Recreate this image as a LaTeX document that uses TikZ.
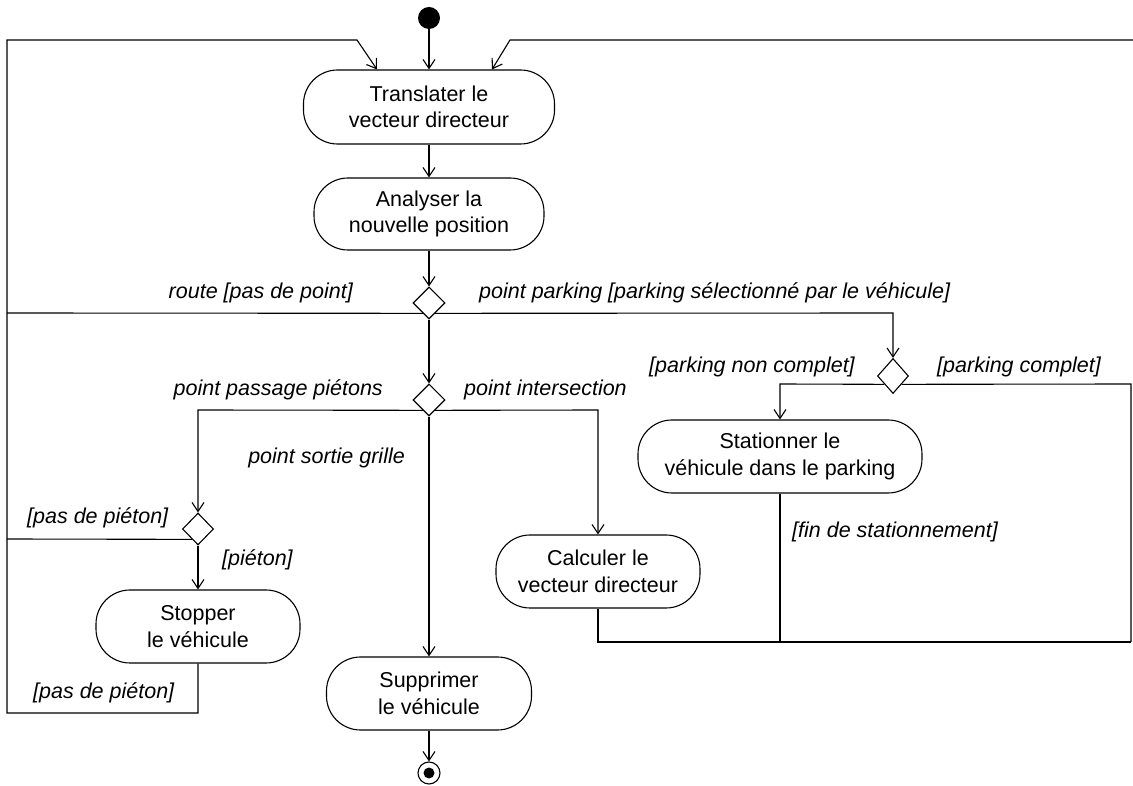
\documentclass[tikz,border=0pt]{standalone}
\usepackage{fontspec}
\setmainfont{Liberation Sans}
\usetikzlibrary{shapes.geometric,arrows.meta,calc}
\begin{document}
\begin{tikzpicture}[x=1pt,y=1pt,
  act/.style={draw, line width=1.1pt, rounded corners=34pt, minimum height=73pt,
    align=center, font=\fontsize{21.5}{26.5}\selectfont, inner sep=0pt},
  dec/.style={draw, diamond, line width=1.1pt, minimum width=32pt, minimum height=32pt, inner sep=0pt},
  lbl/.style={font=\fontsize{21.5}{26.5}\selectfont\itshape, inner sep=0pt},
  flow/.style={line width=1.1pt},
  arr/.style={flow, -{Straight Barb[length=9pt,width=12pt]}}]
\useasboundingbox (0,0) rectangle (1133,785);
% nodes
\node[circle, fill, minimum size=22pt, inner sep=0pt] (start) at (429,767) {};
\node[act, minimum width=251pt, minimum height=74pt] (trans) at (429,678) {Translater le\\vecteur directeur};
\node[act, minimum width=230pt, minimum height=72pt] (anal) at (429,571) {Analyser la\\nouvelle position};
\node[dec] (d1) at (429,482) {};
\node[dec] (d2) at (429,385) {};
\node[dec, minimum width=31pt, minimum height=35pt] (dP) at (893,409) {};
\node[dec, minimum width=31pt] (d3) at (198,256) {};
\node[act, minimum width=284pt] (stat) at (780,328.5) {Stationner le\\véhicule dans le parking};
\node[act, minimum width=204pt] (calc) at (598,213.5) {Calculer le\\vecteur directeur};
\node[act, minimum width=204pt] (stop) at (198,158.5) {Stopper\\le véhicule};
\node[act, minimum width=205pt] (supp) at (429,91.5) {Supprimer\\le véhicule};
\node[circle, draw, line width=1.1pt, minimum size=22pt, inner sep=0pt] (end) at (429,12) {};
\fill (end.center) circle (5.5);
% coordinates
\coordinate (R) at (1133,745);
% labels
\node[lbl, anchor=east] (lroute) at (353,492) {route [pas de point]};
\node[lbl, anchor=west] (lpark) at (479,492) {point parking [parking sélectionné par le véhicule]};
\node[lbl, anchor=east] (lpass) at (383,395) {point passage piétons};
\node[lbl, anchor=west] (linter) at (464,395) {point intersection};
\node[lbl, anchor=east] (lsort) at (405,327) {point sortie grille};
\node[lbl, anchor=west] (lnonc) at (649,418) {[parking non complet]};
\node[lbl, anchor=west] (lcomp) at (937,418) {[parking complet]};
\node[lbl, anchor=west] (lpas1) at (27,267) {[pas de piéton]};
\node[lbl, anchor=west] (lpiet) at (222,225) {[piéton]};
\node[lbl, anchor=west] (lpas2) at (33,92) {[pas de piéton]};
\node[lbl, anchor=west] (lfin) at (792,253) {[fin de stationnement]};
% main column
\draw[arr] (start) -- (trans);
\draw[arr] (trans) -- (anal);
\draw[arr] (anal) -- (d1);
\draw[arr] (d1) -- (d2);
\draw[arr] (d2) -- (supp);
\draw[arr] (supp) -- (end);
% left loop
\draw[arr] (stop.south) -- (198,72) -- (7,72) -- (7,745) -- (357,745) -- ($(trans.north)+(-52,0)$);
\draw[flow] (d1.239) -- (7,472);
\draw[flow] (d3.240) -- (7,246);
% parking branch
\draw[arr] (d1.301) -- (893,472) -- (dP.north);
\draw[arr] (dP.224) -- (780,401) -- (stat.north);
\draw[flow] (dP.316) -- (1131,401) -- (1131,143);
\draw[flow] (stat.south) -- (780,143);
\draw[flow] (calc.south) -- (598,143) -- (1131,143);
% intersection / pedestrian branches
\draw[arr] (d2.239) -- (198,375) -- (d3.north);
\draw[arr] (d2.301) -- (598,375) -- (calc.north);
\draw[arr] (d3) -- (stop);
% right loop top
\draw[arr] (R) -- (510,745) -- ($(trans.north)+(63,0)$);
\end{tikzpicture}
\end{document}
